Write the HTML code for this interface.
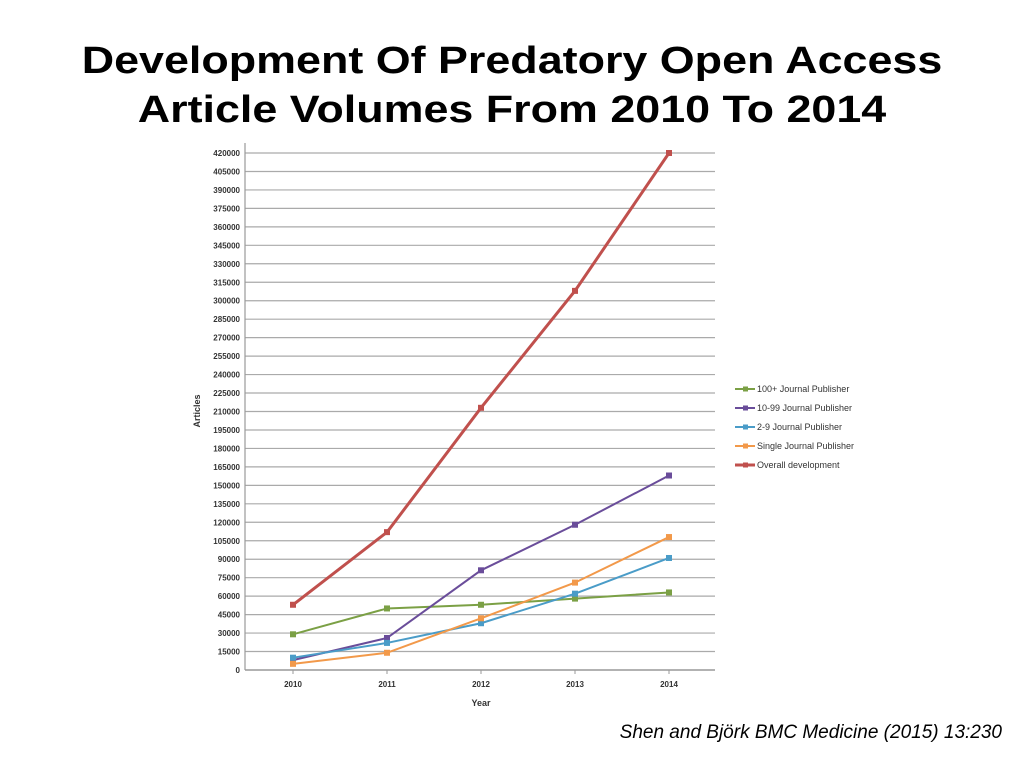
<!DOCTYPE html>
<html><head><meta charset="utf-8"><style>
body{margin:0;width:1024px;height:768px;background:#fff;overflow:hidden;font-family:"Liberation Sans",sans-serif}
#title{position:absolute;left:0;top:37px;width:1024px;text-align:center;font-weight:bold;font-size:38px;line-height:49px;color:#000;transform:scaleX(1.18);transform-origin:512px 0}
#cite{position:absolute;right:22px;top:722px;font-style:italic;font-size:19px;color:#000}
svg{position:absolute;left:0;top:0}
</style></head><body>
<div id="title">Development Of Predatory Open Access<br>Article Volumes From 2010 To 2014</div>
<svg id="chart" width="1024" height="768"></svg>
<div id="cite">Shen and Björk BMC Medicine (2015) 13:230</div>
<script>
const years=["2010","2011","2012","2013","2014"];
const seriesNames=["100+ Journal Publisher","10-99 Journal Publisher","2-9 Journal Publisher","Single Journal Publisher","Overall development"];
const s100=[29000,50000,53000,58000,63000];
const s1099=[8000,26000,81000,118000,158000];
const s29=[10000,22000,38000,62000,91000];
const sSingle=[5000,14000,42000,71000,108000];
const sOverall=[53000,112000,213000,308000,420000];
const yTicks=[0,15000,30000,45000,60000,75000,90000,105000,120000,135000,150000,165000,180000,195000,210000,225000,240000,255000,270000,285000,300000,315000,330000,345000,360000,375000,390000,405000,420000];
const series=[s100,s1099,s29,sSingle,sOverall];
const colors=["#7ba045","#6a4d9a","#4a9cc8","#f2994a","#c0504d"];
const NS="http://www.w3.org/2000/svg";
const svg=document.getElementById('chart');
const L=245,R=715,T=153,B=670;
const y=v=>B-(v/420000)*(B-T);
const x=i=>293+i*94;
function mk(t,a,p){const e=document.createElementNS(NS,t);for(const k in a)e.setAttribute(k,a[k]);(p||svg).appendChild(e);return e;}
yTicks.forEach(v=>{
  const g=mk('line',{x1:L,x2:R,y1:y(v),y2:y(v),stroke:v===0?'#999':'#aaa','stroke-width':v===0?1.5:1.2});
  
  
  const t=mk('text',{x:L-5,y:y(v)+3,'text-anchor':'end','font-size':8,'font-weight':'bold',fill:'#333'});
  t.textContent=v;
  
  
});
const ax=mk('line',{x1:L,x2:L,y1:T-10,y2:B,stroke:'#999','stroke-width':1.2});


years.forEach((yr,i)=>{
  mk('line',{x1:x(i),x2:x(i),y1:B,y2:B+4,stroke:'#999'});
  const t=mk('text',{x:x(i),y:B+17,'text-anchor':'middle','font-size':8,'font-weight':'bold',fill:'#333'});
  t.textContent=yr;
  
  
});
const xt=mk('text',{x:481,y:B+36,'text-anchor':'middle','font-size':9,'font-weight':'bold',fill:'#333'});
xt.textContent='Year';


const yt=mk('text',{x:0,y:0,transform:'translate(200,411) rotate(-90)','text-anchor':'middle','font-size':9,'font-weight':'bold',fill:'#333'});
yt.textContent='Articles';


series.forEach((s,k)=>{
  const pl=mk('polyline',{points:s.map((v,i)=>x(i)+','+y(v)).join(' '),fill:'none',stroke:colors[k],'stroke-width':k===4?3:2});
  
  
  s.forEach((v,i)=>{
    const r=mk('rect',{x:x(i)-3,y:y(v)-3,width:6,height:6,fill:colors[k]});
    
    
  });
  const ly=389+k*19;
  const ll=mk('line',{x1:735,x2:755,y1:ly,y2:ly,stroke:colors[k],'stroke-width':k===4?3:2});
  
  
  mk('rect',{x:743,y:ly-2.5,width:5,height:5,fill:colors[k]});
  const lt=mk('text',{x:757,y:ly+3,'font-size':9,fill:'#333'});
  lt.textContent=seriesNames[k];
  
  
});
</script>
</body></html>
